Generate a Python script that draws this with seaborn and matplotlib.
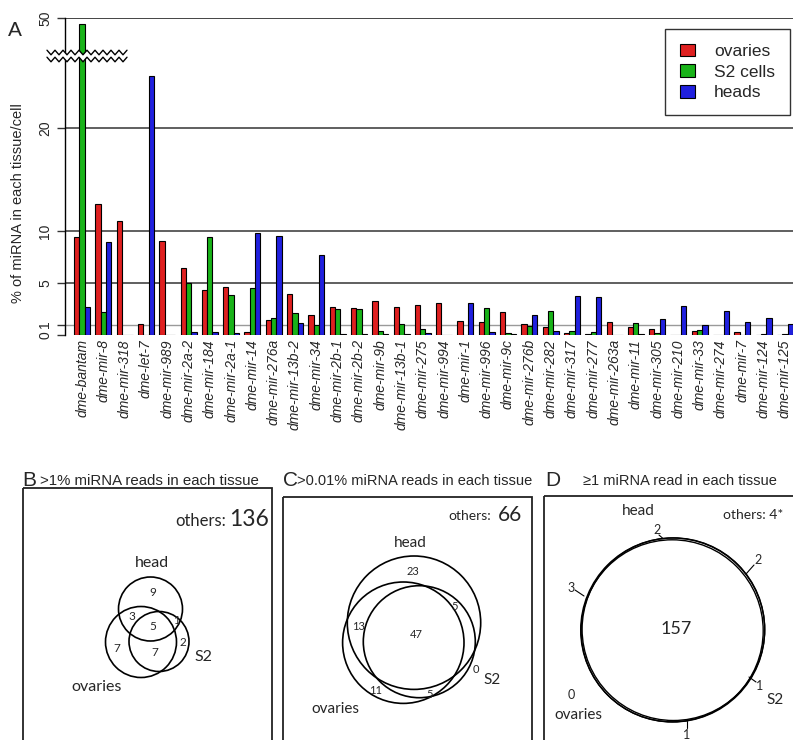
import numpy as np
import pandas as pd
import matplotlib
matplotlib.use("Agg")
import matplotlib.pyplot as plt
from matplotlib.patches import Circle, Rectangle, Polygon
import seaborn as sns

# ---------------- data ----------------
categories = ["dme-bantam", "dme-mir-8", "dme-mir-318", "dme-let-7", "dme-mir-989",
              "dme-mir-2a-2", "dme-mir-184", "dme-mir-2a-1", "dme-mir-14", "dme-mir-276a",
              "dme-mir-13b-2", "dme-mir-34", "dme-mir-2b-1", "dme-mir-2b-2", "dme-mir-9b",
              "dme-mir-13b-1", "dme-mir-275", "dme-mir-994", "dme-mir-1", "dme-mir-996",
              "dme-mir-9c", "dme-mir-276b", "dme-mir-282", "dme-mir-317", "dme-mir-277",
              "dme-mir-263a", "dme-mir-11", "dme-mir-305", "dme-mir-210", "dme-mir-33",
              "dme-mir-274", "dme-mir-7", "dme-mir-124", "dme-mir-125"]
ovaries = [9.5, 12.6, 11.0, 1.1, 9.1, 6.5, 4.3, 4.65, 0.3, 1.4, 4.0, 1.9, 2.7, 2.6, 3.3,
           2.7, 2.9, 3.1, 1.35, 1.3, 2.2, 1.1, 0.8, 0.2, 0.05, 1.3, 0.8, 0.6, 0.0, 0.35,
           0.0, 0.3, 0.0, 0.0]
s2_cells = [46.0, 2.2, 0.02, 0.0, 0.0, 5.05, 9.5, 3.9, 4.55, 1.6, 2.1, 1.0, 2.55, 2.5, 0.4,
            1.1, 0.55, 0.0, 0.0, 2.6, 0.2, 0.9, 2.3, 0.4, 0.25, 0.0, 1.2, 0.2, 0.0, 0.5,
            0.0, 0.0, 0.05, 0.05]
heads = [2.7, 9.0, 0.0, 25.0, 0.0, 0.3, 0.3, 0.2, 9.8, 9.6, 1.2, 7.7, 0.1, 0.1, 0.1,
         0.1, 0.2, 0.0, 3.1, 0.3, 0.1, 1.9, 0.4, 3.8, 3.7, 0.0, 0.05, 1.5, 2.8, 1.0,
         2.3, 1.25, 1.65, 1.05]
tissues = ["ovaries", "S2 cells", "heads"]
tissue_colors = ["#FF0000", "#00CC00", "#0000FF"]
y_ticks = [0, 1, 5, 10, 20, 50]
y_ticklabels = ["0", "1", "5", "10", "20", "50"]

# Venn counts
venn_b = {"head": 9, "head_ov": 3, "all": 5, "head_s2": 1, "ov": 7, "ov_s2": 7, "s2": 2, "others": 136}
venn_c = {"head": 23, "head_s2": 5, "head_ov": 13, "all": 47, "s2": 0, "ov": 11, "ov_s2": 5, "others": 66}
venn_d = {"head": 2, "head_s2": 2, "head_ov": 3, "all": 157, "s2": 1, "ov": 0, "ov_s2": 1, "others": "4*"}

df = pd.DataFrame({
    "miRNA": categories * 3,
    "tissue": [t for t in tissues for _ in categories],
    "pct": ovaries + s2_cells + heads,
})

# ---------------- figure ----------------
sns.set_theme(style="white")
plt.rcParams["font.family"] = ["Liberation Sans", "DejaVu Sans"]
W, H = 793, 740
fig = plt.figure(figsize=(W / 100, H / 100), dpi=100)
fig.patch.set_facecolor("white")

L, R, T, B = 65, 793, 18, 335
ax = fig.add_axes([L / W, 1 - B / H, (R - L) / W, (B - T) / H])
ax.set_facecolor("white")

BRK, K = 27.0, 0.156
def fwd(v):
    v = np.asarray(v, dtype=float)
    return np.where(v <= BRK, v, BRK + (v - BRK) * K)
def inv(u):
    u = np.asarray(u, dtype=float)
    return np.where(u <= BRK, u, BRK + (u - BRK) / K)

for yv, col, lw in [(1, "#9a9a9a", 1.0), (5, "#444444", 1.2), (10, "#444444", 1.2),
                    (20, "#444444", 1.2), (50, "#444444", 1.4)]:
    ax.axhline(yv, color=col, lw=lw, zorder=0)

sns.barplot(data=df, x="miRNA", y="pct", hue="tissue", order=categories,
            hue_order=tissues, palette=tissue_colors, width=0.75, gap=0,
            edgecolor="black", linewidth=0.8, errorbar=None, ax=ax, zorder=2)
ax.set_yscale("function", functions=(fwd, inv))
ax.set_ylim(0, 50)
ax.set_xlim(-0.80, 33.38)
ax.set_yticks(y_ticks)
ax.set_yticklabels(y_ticklabels, rotation=90, va="center", fontsize=10)
ax.yaxis.set_minor_locator(matplotlib.ticker.NullLocator())
ax.tick_params(axis="y", length=6, width=1, color="#333333", pad=3, left=True)
ax.set_xticks(range(len(categories)))
ax.set_xticklabels(categories, rotation=90, fontsize=10, style="italic", va="top", ha="center")
ax.tick_params(axis="x", length=0, pad=3)
ax.set_xlabel("")
ax.set_ylabel("")
for s in ["top", "right", "bottom"]:
    ax.spines[s].set_visible(False)
ax.spines["left"].set_color("black")
ax.spines["left"].set_linewidth(1.0)

handles, labels = ax.get_legend_handles_labels()
ax.get_legend().remove()
leg = fig.legend(handles, labels, loc="upper right",
                 bbox_to_anchor=(790 / W, 1 - 29 / H), fontsize=12.5,
                 frameon=True, fancybox=False, edgecolor="black",
                 handlelength=0.9, handleheight=0.75, handletextpad=1.1,
                 labelspacing=0.3, borderpad=0.85, borderaxespad=0)
leg.get_frame().set_linewidth(1.0)

fig.text(15 / W, 1 - 30 / H, "A", fontsize=15, ha="center", va="center")
fig.text(18 / W, 1 - 203 / H, "% of miRNA in each tissue/cell", rotation=90,
         fontsize=10.5, ha="center", va="center")

# ---------------- overlay (pixel coords) ----------------
ov = fig.add_axes([0, 0, 1, 1])
ov.set_xlim(0, W)
ov.set_ylim(H, 0)
ov.axis("off")
ov.set_zorder(10)
ov.patch.set_visible(False)

# axis break zigzag
zx = np.arange(47, 129, 4.0)
amp = np.where(np.arange(len(zx)) % 2 == 0, -2.3, 2.3)
up = 52.5 + amp
lo = 59.5 + amp
ov.add_patch(Polygon(np.column_stack([np.r_[zx, zx[::-1]], np.r_[up, lo[::-1]]]),
                     closed=True, facecolor="white", edgecolor="none"))
ov.plot(zx, up, color="black", lw=1.0)
ov.plot(zx, lo, color="black", lw=1.0)

VF = ["Lato", "DejaVu Sans"]
box_kw = dict(fill=False, edgecolor="#222222", lw=1.3)

# ---- panel B ----
ov.text(22, 480, "B", fontsize=15, ha="left", va="center")
ov.text(40, 481, ">1% miRNA reads in each tissue", fontsize=10.8, ha="left", va="center")
ov.add_patch(Rectangle((23, 488), 249, 270, **box_kw))
ov.text(226, 521, "others:", fontsize=12, ha="right", va="center", family=VF)
ov.text(229, 519, str(venn_b["others"]), fontsize=16.5, ha="left", va="center", family=VF)
for (cx, cy, r) in [(150.5, 609, 32), (141, 642, 35.5), (159, 641.5, 30)]:
    ov.add_patch(Circle((cx, cy), r, fill=False, edgecolor="black", lw=1.2))
ov.text(152, 563, "head", fontsize=11.5, ha="center", va="center", family=VF)
for key, (x, y) in {"head": (153, 592), "head_ov": (132, 617), "all": (153, 627),
                    "head_s2": (176, 621), "ov": (117, 648), "ov_s2": (155, 653),
                    "s2": (183, 642)}.items():
    ov.text(x, y, str(venn_b[key]), fontsize=8.5, ha="center", va="center", family=VF)
ov.text(203, 657, "S2", fontsize=11.5, ha="center", va="center", family=VF)
ov.text(97, 687, "ovaries", fontsize=11.5, ha="center", va="center", family=VF)

# ---- panel C ----
ov.text(283, 481, "C", fontsize=15, ha="left", va="center")
ov.text(297, 481, ">0.01% miRNA reads in each tissue", fontsize=10.5, ha="left", va="center")
ov.add_patch(Rectangle((283, 497), 249, 260, **box_kw))
ov.text(491, 516, "others:", fontsize=10, ha="right", va="center", family=VF)
ov.text(498, 515, str(venn_c["others"]), fontsize=15, ha="left", va="center", family=VF)
for (cx, cy, r) in [(414, 622.7, 66.7), (403.3, 642.7, 60.7), (419.3, 641.7, 56)]:
    ov.add_patch(Circle((cx, cy), r, fill=False, edgecolor="black", lw=1.2))
ov.text(410, 543, "head", fontsize=11, ha="center", va="center", family=VF)
for key, (x, y) in {"head": (412.7, 571.7), "head_s2": (455, 606.7), "head_ov": (358.3, 626.7),
                    "all": (416.7, 635), "s2": (475.7, 669.3), "ov": (376, 690),
                    "ov_s2": (429.3, 694.3)}.items():
    ov.text(x, y, str(venn_c[key]), fontsize=8, ha="center", va="center", family=VF)
ov.text(491.7, 680, "S2", fontsize=11, ha="center", va="center", family=VF)
ov.text(335, 709, "ovaries", fontsize=11, ha="center", va="center", family=VF)

# ---- panel D ----
ov.text(545, 480, "D", fontsize=15, ha="left", va="center")
ov.text(583, 481, "\u22651 miRNA read in each tissue", fontsize=10.5, ha="left", va="center")
ov.add_patch(Rectangle((544, 496), 260, 262, **box_kw))
ov.text(783, 515, "others: " + str(venn_d["others"]), fontsize=10, ha="right", va="center", family=VF)
ov.text(638, 511, "head", fontsize=11, ha="center", va="center", family=VF)
for (cx, cy, r) in [(672.7, 630, 92), (673.4, 629.2, 91.3), (672.2, 630.8, 91.0)]:
    ov.add_patch(Circle((cx, cy), r, fill=False, edgecolor="black", lw=1.0))
d_labels = {"head": ((656.7, 530.5), [(659, 535), (663, 538.5)]),
            "head_s2": ((757.7, 559.5), [(754, 565), (746, 574)]),
            "head_ov": ((570.7, 588.5), [(575, 590), (584, 596)]),
            "s2": ((760, 686), [(756, 682), (749, 677)]),
            "ov_s2": ((686.7, 735), [(686.5, 728), (686.5, 721)])}
for key, ((x, y), seg) in d_labels.items():
    ov.text(x, y, str(venn_d[key]), fontsize=9, ha="center", va="center", family=VF)
    ov.plot([seg[0][0], seg[1][0]], [seg[0][1], seg[1][1]], color="black", lw=0.8)
ov.text(676.7, 628.5, str(venn_d["all"]), fontsize=13, ha="center", va="center", family=VF)
ov.text(571.7, 695, str(venn_d["ov"]), fontsize=9, ha="center", va="center", family=VF)
ov.text(775, 699.5, "S2", fontsize=11, ha="center", va="center", family=VF)
ov.text(578.3, 715, "ovaries", fontsize=11, ha="center", va="center", family=VF)

fig.savefig("out.png", dpi=100)
